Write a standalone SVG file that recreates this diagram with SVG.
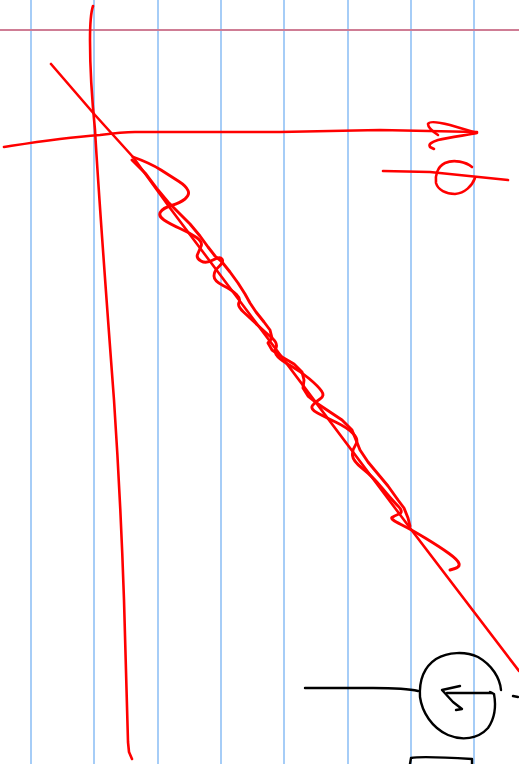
<svg xmlns="http://www.w3.org/2000/svg" width="519" height="764" viewBox="0 0 519 764">
<style>
.rule{stroke:#a6cdf7;stroke-width:2;fill:none}
.margin{stroke:#cf7d95;stroke-width:2;fill:none}
.red{stroke:#ff0000;stroke-width:2.6;fill:none;stroke-linecap:round;stroke-linejoin:round}
.wave{stroke:#ff0000;stroke-width:2.9;fill:none;stroke-linecap:round;stroke-linejoin:round}
.ink{stroke:#000000;stroke-width:2.4;fill:none;stroke-linecap:round;stroke-linejoin:round}
</style>
<rect width="519" height="764" fill="#ffffff"/>
<g id="paper">
<line class="rule" x1="31" y1="0" x2="31" y2="764"/>
<line class="rule" x1="94" y1="0" x2="94" y2="764"/>
<line class="rule" x1="158" y1="0" x2="158" y2="764"/>
<line class="rule" x1="221" y1="0" x2="221" y2="764"/>
<line class="rule" x1="284" y1="0" x2="284" y2="764"/>
<line class="rule" x1="348" y1="0" x2="348" y2="764"/>
<line class="rule" x1="411" y1="0" x2="411" y2="764"/>
<line class="rule" x1="474" y1="0" x2="474" y2="764"/>
<line class="margin" x1="0" y1="30" x2="519" y2="30"/>
</g>
<g id="axes">
<path class="red" d="M93,6 C91,12 90,22 90,40 C90,70 92,100 95,130 C99,200 108,320 114,400 C118,460 122,540 124,600 C126,660 127,710 128,742 L129,752 L132,759"/>
<path class="red" d="M4,147 C30,143 60,138 100,135 C115,133 125,132 135,132 L280,132 L380,130 L477,132"/>
<path class="red" d="M438,135 C432,131 428,127 428,124 C429,121 438,122 450,125 C460,128 470,131 477,133 C468,135 450,137 438,140 C432,142 428,144 430,147 L434,149"/>
</g>
<g id="phi">
<path class="red" d="M383,171 L430,172 L508,180"/>
<path class="red" d="M472,167 C466,162 454,159 445,163 C437,167 435,176 436,183 C438,190 446,194 455,194 C465,193 472,186 475,178"/>
</g>
<g id="diagonal">
<path class="red" d="M51,64 L95,115 L133,157 L170,208 L410,528 L519,671"/>
</g>
<g id="wave">
<path class="wave" d="M133,157 Q150,163 161,170 Q172,177 179,181.5 Q186,186 188,190.5 Q190,195 185,199 Q180,203 171.5,205.5 Q163,208 160.5,212 Q158,216 164,220 Q170,224 180,228.5 Q190,233 196.5,237.5 Q203,242 201,246.5 Q199,251 197.5,254.5 Q196,258 201,261 Q206,264 213,260 Q220,256 222,259 Q224,262 219,266.5 Q214,271 214,276 Q214,281 223,285.5 Q232,290 236.5,294.5 Q241,299 239,302.5 Q237,306 243.5,312 Q250,318 258,325.5 Q266,333 272,338 Q278,343 276,348 Q274,353 278,357 Q282,361 291,366 Q300,371 309,378.5 Q318,386 321.5,391 Q325,396 320,399 Q315,402 312.5,405.5 Q310,409 317.5,413 Q325,417 336.5,422.5 Q348,428 353.5,434 Q359,440 355.5,445 Q352,450 352.5,455.5 Q353,461 362.5,468.5 Q372,476 382,488 Q392,500 398,506 Q404,512 399,514 Q394,516 392,517.5 Q390,519 401,524.5 Q412,530 426,538.5 Q440,547 449,553.5 Q458,560 459,563.5 Q460,567 455,568.5 L450,570"/>
<path class="wave" d="M132,160 L146,174 158,190 168,202 178,212 190,224 200,236 208,247 215,256 222,262 230,272 238,283 245,294 250,303 256,312 264,322 270,330 272,338 268,343 272,350 282,357 294,364 302,372 304,380 303,388 308,396 318,404 330,412 342,420 352,430 356,440 360,450 368,462 378,474 388,486 398,500 404,508 408,518 410,526"/>
</g>
<g id="circle-mark">
<path class="ink" d="M305,688 L340,688 L373,688 C395,688 410,689 418,691"/>
<path class="ink" d="M501,690 C500,678 492,665 478,657 C465,651 448,652 436,659 C424,667 419,680 420,697 C422,712 432,728 448,735 C462,741 478,739 488,728 C495,718 496,705 494,694 L490,692"/>
<path class="ink" d="M492,693 L470,693 L447,693"/>
<path class="ink" d="M460,686 L442,690 L453,702 L462,709 L456,710"/>
<path class="ink" d="M513,696 L518,697"/>
<path class="ink" d="M410,764 L411,758 C420,756 440,757 472,759 L472,764"/>
</g>
</svg>
